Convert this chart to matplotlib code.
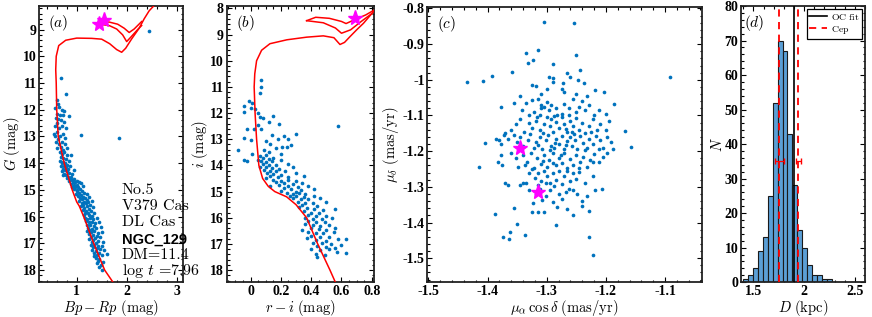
import numpy as np
import matplotlib
matplotlib.use("Agg")
import matplotlib.pyplot as plt
from matplotlib.ticker import MultipleLocator

plt.rcParams['font.family'] = 'serif'
plt.rcParams['font.serif'] = ['Liberation Serif', 'DejaVu Serif']
plt.rcParams['mathtext.fontset'] = 'cm'

blue = '#0072BD'
magenta = '#FF00FF'

# --- (a) Gaia CMD: Bp-Rp, G ---
cmd_a = np.array([
    (2.45, 9.05), (1.84, 13.05), (1.08, 12.95), (0.68, 10.8), (0.78, 11.4), (0.84, 12.25),
    (0.6, 11.65), (0.62, 11.8), (0.57, 11.95), (0.64, 11.9), (0.7, 12.0), (0.74, 12.05),
    (0.6, 12.15), (0.66, 12.2), (0.72, 12.2), (0.58, 12.3), (0.63, 12.35), (0.68, 12.4),
    (0.6, 12.5), (0.75, 12.45), (0.56, 12.6), (0.7, 12.6), (0.64, 12.7), (0.79, 12.7),
    (0.6, 12.85), (0.55, 12.9), (0.57, 13.0), (0.73, 12.9), (0.67, 13.0), (0.77, 13.05),
    (0.62, 13.1), (0.59, 13.2), (0.7, 13.2), (0.64, 13.3), (0.76, 13.3), (0.68, 13.4),
    (0.81, 13.45), (0.6, 13.45), (0.72, 13.5),
    (0.66, 13.6), (0.7, 13.65), (0.75, 13.6), (0.8, 13.7), (0.88, 13.7), (0.68, 13.75),
    (0.73, 13.8), (0.78, 13.85), (0.66, 13.9), (0.72, 13.95), (0.84, 13.9), (0.7, 14.0),
    (0.76, 14.0), (0.8, 14.05), (0.74, 14.1), (0.68, 14.1), (0.86, 14.1), (0.78, 14.15),
    (0.72, 14.2), (0.82, 14.2), (0.76, 14.25), (0.7, 14.3), (0.8, 14.3), (0.85, 14.35),
    (0.75, 14.4), (0.9, 14.4), (0.79, 14.45), (0.83, 14.5), (0.95, 14.25), (0.73, 14.45),
    (0.88, 14.5),
    (0.8, 14.55), (0.86, 14.6), (0.9, 14.62), (0.95, 14.6), (1.0, 14.65), (0.84, 14.68),
    (0.92, 14.7), (0.97, 14.72), (1.05, 14.7), (0.88, 14.78), (0.94, 14.8), (1.0, 14.8),
    (1.08, 14.75), (0.9, 14.88), (0.97, 14.9), (1.03, 14.9), (1.12, 14.85), (0.95, 14.97),
    (1.06, 14.98), (1.0, 15.0),
    (1.0, 15.05), (1.05, 15.1), (1.1, 15.05), (1.15, 15.1), (0.98, 15.15), (1.08, 15.18),
    (1.2, 15.15), (1.03, 15.22), (1.12, 15.25), (1.06, 15.3), (1.16, 15.3), (1.25, 15.25),
    (1.1, 15.35), (1.2, 15.38), (1.05, 15.4), (1.14, 15.45), (1.22, 15.45), (1.3, 15.4),
    (1.1, 15.5), (1.18, 15.5),
    (1.12, 15.55), (1.2, 15.6), (1.27, 15.58), (1.08, 15.62), (1.15, 15.68), (1.24, 15.7),
    (1.32, 15.65), (1.12, 15.75), (1.19, 15.78), (1.28, 15.8), (1.16, 15.85), (1.22, 15.88),
    (1.35, 15.85), (1.14, 15.95), (1.25, 15.95), (1.3, 15.98),
    (1.16, 16.05), (1.2, 16.1), (1.26, 16.05), (1.32, 16.1), (1.4, 16.05), (1.18, 16.18),
    (1.24, 16.2), (1.3, 16.2), (1.36, 16.25), (1.45, 16.2), (1.2, 16.3), (1.27, 16.32),
    (1.34, 16.35), (1.22, 16.42), (1.3, 16.45), (1.38, 16.42), (1.48, 16.4), (1.25, 16.5),
    (1.2, 16.55), (1.28, 16.58), (1.35, 16.55), (1.42, 16.6), (1.5, 16.58), (1.24, 16.65),
    (1.32, 16.7), (1.4, 16.72), (1.28, 16.78), (1.36, 16.8), (1.46, 16.78), (1.25, 16.85),
    (1.33, 16.88), (1.42, 16.9), (1.3, 16.95), (1.38, 16.98), (1.52, 16.95),
    (1.28, 17.05), (1.35, 17.05), (1.42, 17.08), (1.5, 17.1), (1.32, 17.15), (1.4, 17.18),
    (1.47, 17.2), (1.3, 17.25), (1.38, 17.28), (1.55, 17.25), (1.35, 17.35), (1.44, 17.35),
    (1.4, 17.42), (1.5, 17.45), (1.6, 17.4), (1.34, 17.48),
    (1.38, 17.55), (1.45, 17.58), (1.42, 17.65), (1.52, 17.7), (1.4, 17.75), (1.48, 17.8),
    (1.44, 17.9), (1.5, 18.0),
])

iso_a_main = np.array([
    (1.78, 18.6), (1.56, 18.0), (1.34, 17.0), (1.14, 16.0), (1.05, 15.6), (1.0, 15.45),
    (0.91, 15.0), (0.75, 14.0), (0.63, 13.0), (0.6, 12.0), (0.59, 11.0), (0.58, 10.5),
    (0.59, 10.0), (0.64, 9.6), (0.78, 9.4), (1.0, 9.32), (1.3, 9.33), (1.5, 9.36),
    (1.66, 9.53), (1.8, 9.75), (1.9, 9.85), (1.98, 9.7), (2.1, 9.35), (2.25, 8.95),
    (2.35, 8.6), (2.45, 8.3), (2.55, 8.1),
])
iso_a_loop1 = np.array([
    (1.45, 8.72), (1.65, 8.72), (1.82, 8.8), (1.95, 8.95), (2.05, 9.11), (2.15, 8.98),
    (2.3, 8.7),
])
iso_a_loop2 = np.array([
    (1.45, 8.8), (1.65, 8.85), (1.8, 8.98), (1.92, 9.2), (2.0, 9.45), (2.1, 9.25),
    (2.22, 9.0), (2.3, 8.85),
])
cep_a = np.array([(1.45, 8.78), (1.55, 8.65)])

# --- (b) r-i, i ---
cmd_b = np.array([
    (0.58, 12.5), (0.07, 10.75), (0.07, 11.0), (0.06, 11.25), (0.3, 12.8),
    (-0.01, 11.55), (0.01, 11.62), (-0.04, 11.72), (0.0, 11.8), (0.03, 11.85), (-0.04, 11.95),
    (0.05, 12.0), (0.06, 12.15), (0.08, 12.2), (0.15, 12.1), (0.12, 12.35), (0.19, 12.42),
    (0.05, 12.45), (-0.02, 12.62), (0.02, 12.6), (0.07, 12.62), (0.14, 12.82), (0.22, 12.88),
    (0.18, 13.0), (0.25, 13.0), (0.1, 13.05), (-0.04, 12.95), (0.0, 13.02), (0.13, 13.2),
    (0.17, 13.32), (0.21, 13.3), (0.27, 13.22), (0.09, 13.42), (-0.08, 13.42), (-0.04, 13.8),
    (0.01, 13.55), (0.24, 13.3), (0.12, 13.5), (0.2, 13.55),
    (0.06, 13.65), (0.08, 13.7), (0.1, 13.62), (0.05, 13.78), (0.12, 13.75), (0.15, 13.7),
    (0.07, 13.85), (0.1, 13.88), (0.14, 13.85), (0.2, 13.8), (0.08, 13.95), (0.12, 13.98),
    (0.17, 14.0), (0.25, 13.95), (0.06, 14.05), (0.1, 14.08), (0.14, 14.1), (0.19, 14.12),
    (0.28, 14.05), (0.09, 14.18), (0.13, 14.2), (0.17, 14.22), (0.23, 14.2), (0.11, 14.3),
    (0.15, 14.32), (0.2, 14.35), (0.3, 14.3), (0.13, 14.42), (0.18, 14.45), (0.25, 14.45),
    (0.35, 14.4), (0.1, 14.48), (-0.02, 13.85),
    (0.15, 14.55), (0.2, 14.58), (0.25, 14.55), (0.3, 14.6), (0.17, 14.65), (0.22, 14.68),
    (0.28, 14.7), (0.34, 14.68), (0.19, 14.75), (0.25, 14.8), (0.31, 14.82), (0.38, 14.78),
    (0.13, 14.8), (0.22, 14.88), (0.27, 14.92), (0.33, 14.95), (0.2, 14.98), (0.3, 15.0),
    (0.42, 14.9),
    (0.24, 15.05), (0.28, 15.08), (0.32, 15.05), (0.36, 15.1), (0.26, 15.15), (0.3, 15.18),
    (0.35, 15.2), (0.42, 15.15), (0.28, 15.25), (0.33, 15.3), (0.38, 15.3), (0.46, 15.25),
    (0.31, 15.38), (0.36, 15.42), (0.41, 15.45), (0.5, 15.4), (0.34, 15.5), (0.44, 15.55),
    (0.32, 15.6), (0.37, 15.62), (0.42, 15.65), (0.48, 15.7), (0.56, 15.68), (0.35, 15.75),
    (0.4, 15.8), (0.45, 15.82), (0.38, 15.9), (0.43, 15.92), (0.5, 15.95), (0.36, 16.0),
    (0.41, 16.05), (0.47, 16.05), (0.54, 16.0),
    (0.38, 16.12), (0.43, 16.15), (0.49, 16.18), (0.36, 16.25), (0.41, 16.28), (0.46, 16.3),
    (0.52, 16.28), (0.4, 16.38), (0.45, 16.42), (0.5, 16.45), (0.34, 16.45), (0.56, 16.4),
    (0.38, 16.55), (0.43, 16.58), (0.48, 16.6), (0.55, 16.55), (0.4, 16.68), (0.46, 16.72),
    (0.52, 16.75), (0.37, 16.78), (0.43, 16.85), (0.5, 16.88), (0.58, 16.82), (0.63, 16.8),
    (0.41, 16.95), (0.47, 16.98), (0.53, 17.0), (0.44, 17.08), (0.5, 17.12), (0.56, 17.15),
    (0.63, 17.35), (0.57, 17.3), (0.4, 17.2), (0.46, 17.25), (0.43, 17.38), (0.49, 17.42),
    (0.44, 17.5), (0.52, 17.2), (0.6, 17.05),
])

iso_b_main = np.array([
    (0.57, 18.6), (0.524, 18.0), (0.443, 17.0), (0.37, 16.0), (0.3, 15.5), (0.238, 15.2),
    (0.16, 15.0), (0.117, 14.8), (0.08, 14.5), (0.055, 14.0), (0.04, 13.0), (0.03, 12.0),
    (0.024, 11.0), (0.028, 10.5), (0.04, 10.0), (0.073, 9.6), (0.128, 9.35), (0.24, 9.2),
    (0.37, 9.1), (0.48, 9.05), (0.55, 9.12), (0.59, 9.38), (0.62, 9.3), (0.656, 9.08),
    (0.7, 8.82), (0.745, 8.57), (0.81, 8.13),
])
iso_b_loop1 = np.array([
    (0.37, 8.47), (0.43, 8.34), (0.52, 8.38), (0.6, 8.5), (0.63, 8.58), (0.68, 8.45),
    (0.76, 8.25), (0.82, 8.05),
])
iso_b_loop2 = np.array([
    (0.37, 8.47), (0.48, 8.55), (0.56, 8.75), (0.6, 8.95), (0.66, 8.82), (0.73, 8.5),
    (0.8, 8.2),
])
cep_b = np.array([(0.69, 8.35)])

# --- (c) proper motions ---
pm = np.array([
    (-1.304, -0.839), (-1.254, -0.842), (-1.314, -0.917), (-1.335, -0.924), (-1.331, -0.954),
    (-1.323, -0.945), (-1.29, -0.956), (-1.251, -0.931), (-1.359, -0.977), (-1.244, -0.973),
    (-1.393, -0.99), (-1.408, -1.004), (-1.434, -1.007), (-1.092, -0.993), (-1.296, -0.993),
    (-1.29, -0.996), (-1.266, -0.98), (-1.261, -0.993),
    (-1.325, -1.015), (-1.318, -1.018), (-1.273, -1.01), (-1.247, -1.0), (-1.237, -1.01),
    (-1.218, -1.028), (-1.204, -1.035), (-1.29, -1.005), (-1.275, -1.027), (-1.3, -1.025),
    (-1.31, -1.04), (-1.345, -1.045), (-1.25, -1.04), (-1.27, -1.035), (-1.232, -1.045),
    (-1.378, -1.075), (-1.355, -1.065), (-1.335, -1.065), (-1.325, -1.058), (-1.315, -1.055),
    (-1.31, -1.07), (-1.305, -1.075), (-1.30, -1.062), (-1.292, -1.07), (-1.285, -1.08),
    (-1.296, -1.085), (-1.282, -1.1), (-1.27, -1.068), (-1.262, -1.078), (-1.255, -1.055),
    (-1.25, -1.09), (-1.24, -1.06), (-1.235, -1.085), (-1.228, -1.07), (-1.22, -1.1),
    (-1.212, -1.085), (-1.2, -1.095), (-1.186, -1.068), (-1.342, -1.085), (-1.322, -1.09),
    (-1.33, -1.1), (-1.312, -1.098), (-1.275, -1.095), (-1.262, -1.098), (-1.245, -1.075),
    (-1.31, -1.08),
    (-1.36, -1.14), (-1.352, -1.125), (-1.345, -1.11), (-1.338, -1.145), (-1.33, -1.12),
    (-1.325, -1.135), (-1.318, -1.115), (-1.312, -1.14), (-1.305, -1.125), (-1.3, -1.105),
    (-1.295, -1.13), (-1.29, -1.145), (-1.285, -1.118), (-1.28, -1.135), (-1.275, -1.105),
    (-1.27, -1.125), (-1.265, -1.145), (-1.26, -1.115), (-1.255, -1.13), (-1.25, -1.108),
    (-1.245, -1.14), (-1.24, -1.12), (-1.235, -1.148), (-1.228, -1.13), (-1.222, -1.11),
    (-1.215, -1.14), (-1.21, -1.125), (-1.2, -1.14), (-1.195, -1.115), (-1.225, -1.145),
    (-1.306, -1.148), (-1.292, -1.11), (-1.268, -1.138), (-1.168, -1.143), (-1.37, -1.15),
    (-1.288, -1.102), (-1.258, -1.146), (-1.316, -1.103),
    (-1.385, -1.165), (-1.38, -1.17), (-1.377, -1.18), (-1.372, -1.155), (-1.365, -1.165),
    (-1.355, -1.155), (-1.35, -1.175), (-1.345, -1.16), (-1.34, -1.185), (-1.332, -1.17),
    (-1.328, -1.152), (-1.322, -1.19), (-1.318, -1.175), (-1.312, -1.16), (-1.308, -1.195),
    (-1.302, -1.17), (-1.298, -1.155), (-1.293, -1.185), (-1.288, -1.19), (-1.284, -1.165),
    (-1.279, -1.18), (-1.274, -1.157), (-1.27, -1.195), (-1.266, -1.172), (-1.261, -1.16),
    (-1.257, -1.185), (-1.252, -1.168), (-1.248, -1.195), (-1.243, -1.158), (-1.238, -1.178),
    (-1.232, -1.19), (-1.228, -1.165), (-1.222, -1.18), (-1.216, -1.158), (-1.21, -1.17),
    (-1.205, -1.19), (-1.198, -1.16), (-1.192, -1.175), (-1.188, -1.195), (-1.405, -1.178),
    (-1.158, -1.188), (-1.295, -1.198), (-1.268, -1.183), (-1.236, -1.197), (-1.315, -1.183),
    (-1.286, -1.176), (-1.254, -1.151), (-1.212, -1.195),
    (-1.383, -1.23), (-1.377, -1.21), (-1.375, -1.238), (-1.36, -1.205), (-1.352, -1.22),
    (-1.348, -1.245), (-1.34, -1.21), (-1.333, -1.23), (-1.326, -1.205), (-1.322, -1.248),
    (-1.317, -1.22), (-1.31, -1.235), (-1.305, -1.21), (-1.3, -1.245), (-1.296, -1.225),
    (-1.29, -1.205), (-1.285, -1.24), (-1.28, -1.218), (-1.275, -1.232), (-1.27, -1.205),
    (-1.265, -1.247), (-1.26, -1.222), (-1.255, -1.238), (-1.25, -1.21), (-1.244, -1.23),
    (-1.238, -1.215), (-1.232, -1.245), (-1.226, -1.225), (-1.22, -1.208), (-1.212, -1.23),
    (-1.205, -1.215), (-1.198, -1.205), (-1.415, -1.243), (-1.222, -1.23), (-1.306, -1.228),
    (-1.276, -1.212), (-1.246, -1.248), (-1.336, -1.24), (-1.289, -1.232),
    (-1.37, -1.29), (-1.365, -1.295), (-1.345, -1.295), (-1.34, -1.29), (-1.33, -1.26),
    (-1.325, -1.25), (-1.32, -1.275), (-1.315, -1.262), (-1.31, -1.285), (-1.305, -1.255),
    (-1.3, -1.27), (-1.295, -1.29), (-1.29, -1.262), (-1.285, -1.28), (-1.28, -1.255),
    (-1.275, -1.292), (-1.27, -1.27), (-1.265, -1.255), (-1.26, -1.285), (-1.255, -1.262),
    (-1.25, -1.278), (-1.245, -1.258), (-1.235, -1.29), (-1.222, -1.27), (-1.315, -1.295),
    (-1.302, -1.29), (-1.287, -1.298), (-1.335, -1.288),
    (-1.33, -1.31), (-1.323, -1.345), (-1.318, -1.32), (-1.308, -1.338), (-1.302, -1.325),
    (-1.295, -1.31), (-1.28, -1.32), (-1.275, -1.335), (-1.263, -1.305), (-1.255, -1.31),
    (-1.248, -1.32), (-1.24, -1.34), (-1.232, -1.325), (-1.218, -1.31), (-1.207, -1.305),
    (-1.268, -1.315), (-1.29, -1.342), (-1.312, -1.305),
    (-1.325, -1.37), (-1.315, -1.37), (-1.305, -1.37), (-1.283, -1.357), (-1.266, -1.362),
    (-1.255, -1.38), (-1.24, -1.355), (-1.228, -1.368), (-1.355, -1.358), (-1.387, -1.376),
    (-1.351, -1.404), (-1.285, -1.407), (-1.362, -1.426), (-1.337, -1.435), (-1.374, -1.441),
    (-1.363, -1.447), (-1.228, -1.44), (-1.221, -1.491),
])
cep_pm = np.array([(-1.345, -1.19), (-1.315, -1.315)])

# --- (d) distance histogram ---
bin_edges = np.round(1.395 + 0.049 * np.arange(20), 3)
counts = [1, 2, 4, 9, 13, 25, 52, 70, 67, 43, 28, 15, 10, 5, 2, 2, 1, 1, 0]
d_oc = 1.905
d_cep = [1.755, 1.944]
d_cep_err = [0.045, 0.025]
err_y = 35

fig = plt.figure(figsize=(8.72, 3.17), dpi=100)
ax_a = fig.add_axes([0.045, 0.110, 0.165, 0.871])
ax_b = fig.add_axes([0.260, 0.110, 0.169, 0.871])
ax_c = fig.add_axes([0.490, 0.110, 0.315, 0.868])
ax_d = fig.add_axes([0.850, 0.110, 0.142, 0.871])

lab_fs = 10.5
note_fs = 11.5


def style(ax):
    ax.tick_params(which='both', direction='in', top=True, right=True, width=0.8, pad=2)
    ax.tick_params(which='major', length=3.5)
    ax.tick_params(which='minor', length=1.8)
    for s in ax.spines.values():
        s.set_linewidth(1.3)
        s.set_color('#222222')
    for lab in ax.get_xticklabels() + ax.get_yticklabels():
        lab.set_fontfamily('Liberation Serif')
        lab.set_fontweight('bold')
        lab.set_fontsize(10)


# (a)
ax = ax_a
ax.scatter(cmd_a[:, 0], cmd_a[:, 1], s=7, color=blue, lw=0, zorder=2)
for seg in (iso_a_main, iso_a_loop1, iso_a_loop2):
    ax.plot(seg[:, 0], seg[:, 1], color='red', lw=1.1, zorder=3)
ax.plot(cep_a[:, 0], cep_a[:, 1], '*', color=magenta, ms=11, zorder=4, lw=0)
ax.set_xlim(0.25, 3.13)
ax.set_ylim(18.45, 8.12)
ax.xaxis.set_major_locator(MultipleLocator(1))
ax.xaxis.set_minor_locator(MultipleLocator(0.2))
ax.yaxis.set_major_locator(MultipleLocator(1))
ax.yaxis.set_minor_locator(MultipleLocator(0.2))
ax.set_xlabel(r'$Bp-Rp\ \mathrm{(mag)}$', fontsize=lab_fs, labelpad=0)
ax.set_ylabel(r'$G\ \mathrm{(mag)}$', fontsize=lab_fs)
ax.yaxis.set_label_coords(-0.12, 0.5)
ax.text(0.06, 0.975, r'$(a)$', transform=ax.transAxes, fontsize=11, va='top')
ax.text(1.9, 15.15, 'No.5', fontsize=note_fs, family='cmr10')
ax.text(1.9, 15.75, 'V379 Cas', fontsize=note_fs, family='cmr10')
ax.text(1.9, 16.35, 'DL Cas', fontsize=note_fs, family='cmr10')
ax.text(1.9, 17.0, 'NGC_129', fontsize=10.5, fontweight='bold', family='Liberation Sans')
ax.text(1.9, 17.6, 'DM=11.4', fontsize=note_fs, family='cmr10')
ax.text(1.9, 18.2, r'$\log\,t$' + ' =7.96', fontsize=note_fs, family='cmr10')
style(ax)

# (b)
ax = ax_b
ax.scatter(cmd_b[:, 0], cmd_b[:, 1], s=7, color=blue, lw=0, zorder=2)
for seg in (iso_b_main, iso_b_loop1, iso_b_loop2):
    ax.plot(seg[:, 0], seg[:, 1], color='red', lw=1.1, zorder=3)
ax.plot(cep_b[:, 0], cep_b[:, 1], '*', color=magenta, ms=11, zorder=4, lw=0)
ax.set_xlim(-0.157, 0.815)
ax.set_ylim(18.46, 7.91)
ax.set_xticks([0, 0.2, 0.4, 0.6, 0.8])
ax.set_xticklabels(['0', '0.2', '0.4', '0.6', '0.8'])
ax.xaxis.set_minor_locator(MultipleLocator(0.05))
ax.yaxis.set_major_locator(MultipleLocator(1))
ax.yaxis.set_minor_locator(MultipleLocator(0.2))
ax.set_xlabel(r'$r-i\ \mathrm{(mag)}$', fontsize=lab_fs, labelpad=0)
ax.set_ylabel(r'$i\ \mathrm{(mag)}$', fontsize=lab_fs, labelpad=0)
ax.text(0.06, 0.975, r'$(b)$', transform=ax.transAxes, fontsize=11, va='top')
style(ax)

# (c)
ax = ax_c
ax.scatter(pm[:, 0], pm[:, 1], s=7, color=blue, lw=0, zorder=2)
ax.plot(cep_pm[:, 0], cep_pm[:, 1], '*', color=magenta, ms=11, zorder=4, lw=0)
ax.set_xlim(-1.502, -1.0375)
ax.set_ylim(-1.567, -0.796)
ax.set_xticks([-1.5, -1.4, -1.3, -1.2, -1.1])
ax.set_xticklabels(['-1.5', '-1.4', '-1.3', '-1.2', '-1.1'])
ax.set_yticks([-1.5, -1.4, -1.3, -1.2, -1.1, -1, -0.9, -0.8])
ax.set_yticklabels(['-1.5', '-1.4', '-1.3', '-1.2', '-1.1', '-1', '-0.9', '-0.8'])
ax.xaxis.set_minor_locator(MultipleLocator(0.02))
ax.yaxis.set_minor_locator(MultipleLocator(0.02))
ax.set_xlabel(r'$\mu_\alpha\,\cos\delta\ \mathrm{(mas/yr)}$', fontsize=lab_fs, labelpad=0)
ax.set_ylabel(r'$\mu_\delta\ \mathrm{(mas/yr)}$', fontsize=lab_fs, labelpad=1)
ax.text(0.035, 0.975, r'$(c)$', transform=ax.transAxes, fontsize=11, va='top')
style(ax)

# (d)
ax = ax_d
ax.hist(bin_edges[:-1], bins=bin_edges, weights=counts, color='#5B9FD6',
        edgecolor='#1a1a1a', lw=0.8, zorder=2)
ax.axvline(d_oc, color='black', lw=1.2, zorder=3, label=r'$\mathrm{OC\ fit}$')
ax.axvline(d_cep[0], color='red', ls='--', lw=1.3, dashes=(4, 3), zorder=3,
           label=r'$\mathrm{Cep}$')
ax.axvline(d_cep[1], color='red', ls='--', lw=1.3, dashes=(4, 3), zorder=3)
ax.errorbar(d_cep, [err_y, err_y], xerr=d_cep_err, fmt='none', ecolor='red',
            elinewidth=0.9, capsize=2.5, zorder=4)
ax.set_xlim(1.38, 2.6)
ax.set_ylim(0, 80)
ax.set_xticks([1.5, 2, 2.5])
ax.set_xticklabels(['1.5', '2', '2.5'])
ax.xaxis.set_minor_locator(MultipleLocator(0.1))
ax.yaxis.set_major_locator(MultipleLocator(10))
ax.yaxis.set_minor_locator(MultipleLocator(2))
ax.set_xlabel(r'$D\ \mathrm{(kpc)}$', fontsize=lab_fs, labelpad=0)
ax.set_ylabel(r'$N$', fontsize=lab_fs, labelpad=0)
ax.text(0.02, 0.975, r'$(d)$', transform=ax.transAxes, fontsize=11, va='top')
leg = ax.legend(loc='upper right', fontsize=7, frameon=True, fancybox=False,
                edgecolor='black', framealpha=1, borderpad=0.3, handlelength=1.8,
                handletextpad=0.4, labelspacing=0.2, borderaxespad=0.3)
leg.get_frame().set_linewidth(0.9)
style(ax)

fig.savefig('out.png', dpi=100)
